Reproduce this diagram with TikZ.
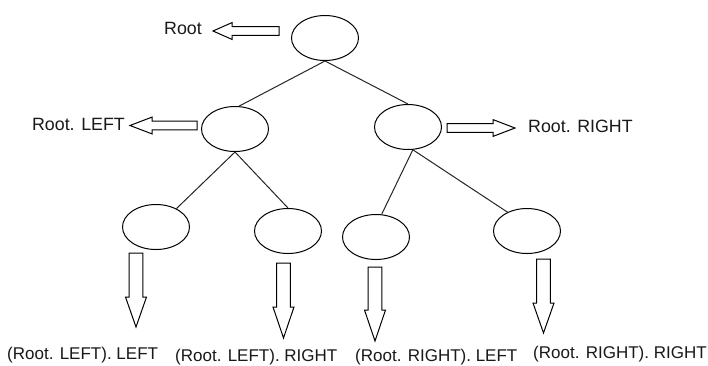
\documentclass[tikz,border=0pt]{standalone}
\usepackage{fontspec}
\setmainfont{Liberation Sans}
\usetikzlibrary{shapes.geometric}

% Hollow block arrows: horizontal {tail}{head base}{tip}{y}{shaft half}{head half}
\newcommand\hblock[6]{%
  \draw[blockarrow] ({#1},{#4-#5}) -- ({#2},{#4-#5}) -- ({#2},{#4-#6}) -- ({#3},{#4})
    -- ({#2},{#4+#6}) -- ({#2},{#4+#5}) -- ({#1},{#4+#5}) -- cycle;}
% vertical {x}{tail}{head base}{tip}{shaft half}{head half}
\newcommand\vblock[6]{%
  \draw[blockarrow] ({#1-#5},{#2}) -- ({#1-#5},{#3}) -- ({#1-#6},{#3}) -- ({#1},{#4})
    -- ({#1+#6},{#3}) -- ({#1+#5},{#3}) -- ({#1+#5},{#2}) -- cycle;}

\tikzset{
  treenode/.style={ellipse, draw=black, line width=1pt, fill=white,
    minimum width=67pt, minimum height=45pt, inner sep=0pt},
  edge/.style={draw=black!85, line width=1pt},
  blockarrow/.style={draw=black, fill=white, line width=1pt, line join=miter},
  toplabel/.style={inner sep=0pt, font=\fontsize{17.8}{20}\selectfont, text=black!90},
  leaflabel/.style={inner sep=0pt, anchor=base west, font=\fontsize{17}{19}\selectfont, text=black!90},
}

\begin{document}
\begin{tikzpicture}[x=1pt, y=-1pt]
  \useasboundingbox[fill=white] (0,0) rectangle (708,365);

  % tree nodes
  \node[treenode] (root) at (325,38) {};
  \node[treenode] (L)  at (235,129) {};
  \node[treenode] (R)  at (408,127) {};
  \node[treenode] (LL) at (156,227) {};
  \node[treenode] (LR) at (288,231) {};
  \node[treenode] (RL) at (376,237) {};
  \node[treenode] (RR) at (527,231) {};

  % tree edges
  \path[edge] (root.south) -- (L.80);
  \path[edge] (root.south) -- (R.north);
  \path[edge] (L.south) -- (LL.42);
  \path[edge] (L.south) -- (LR.north);
  \path[edge] (R.-78) -- (RL.76);
  \path[edge] (R.-78) -- (RR.136);

  % pointer arrows
  \hblock{279}{232}{213}{31}{4.4}{8.4}
  \hblock{197}{152}{130}{125.5}{4.4}{8.4}
  \hblock{447}{493}{515}{128}{4.4}{8.4}
  \vblock{136}{253}{297}{327}{6.8}{10.5}
  \vblock{283.5}{263}{307}{338}{6.8}{10.5}
  \vblock{375}{267}{310}{341}{6.8}{10.5}
  \vblock{543.5}{259}{303}{333}{6.8}{10.5}

  % labels
  \node[toplabel, anchor=east] (troot) at (202,28) {Root};
  \node[toplabel, anchor=east] (tleft) at (125,124) {Root. LEFT};
  \node[toplabel, anchor=west] (tright) at (528,126.5) {Root. RIGHT};
  \node[leaflabel] (tll) at (7,359.5) {(Root. LEFT). LEFT};
  \node[leaflabel] (tlr) at (175,361) {(Root. LEFT). RIGHT};
  \node[leaflabel] (trl) at (355,361) {(Root. RIGHT). LEFT};
  \node[leaflabel] (trr) at (533,358.5) {(Root. RIGHT). RIGHT};
\end{tikzpicture}
\end{document}
